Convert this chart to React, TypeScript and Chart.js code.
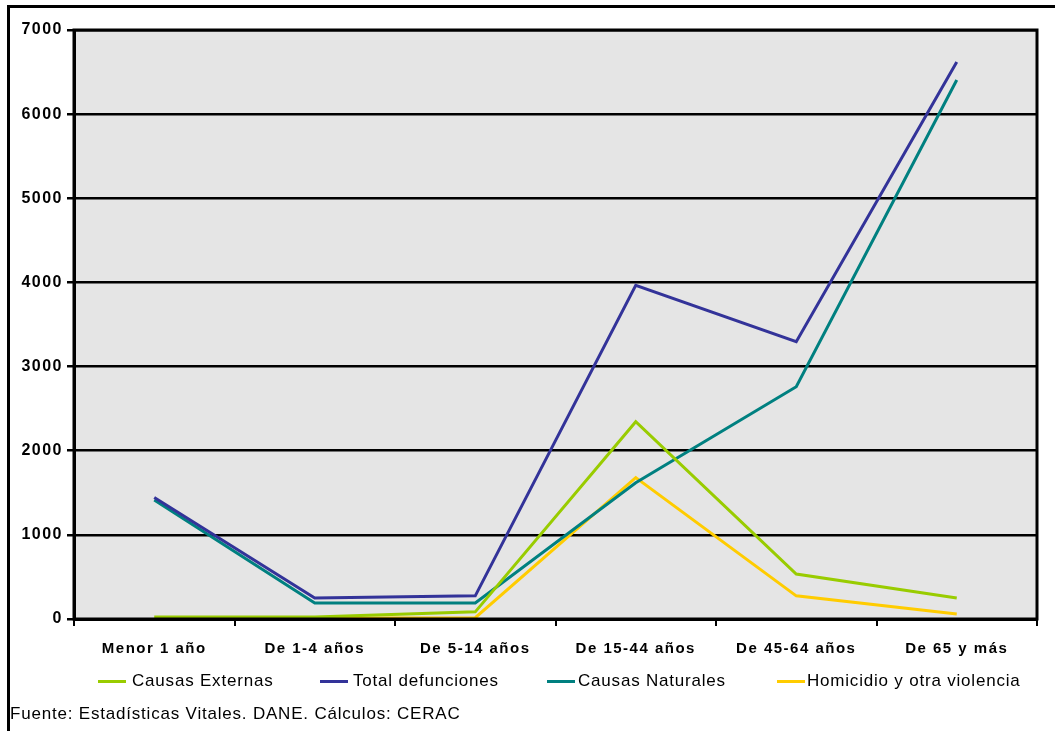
import React, { useEffect, useRef } from "react";
import { Chart, registerables } from "chart.js";

Chart.register(...registerables);

const categories = ["Menor 1 año", "De 1-4 años", "De 5-14 años", "De 15-44 años", "De 45-64 años", "De 65 y más"];
const causasExternas = [25, 25, 85, 2345, 535, 250];
const totalDefunciones = [1445, 250, 275, 3965, 3295, 6620];
const causasNaturales = [1415, 190, 190, 1620, 2760, 6405];
const homicidio = [null, 10, 15, 1680, 275, 60];
const yMin = 0;
const yMax = 7000;
const yStep = 1000;

const seriesNames = ["Causas Externas", "Total defunciones", "Causas Naturales", "Homicidio y otra violencia"];
const seriesColors = ["#99cc00", "#333399", "#008080", "#ffcc00"];
const sourceText = "Fuente: Estadísticas Vitales. DANE. Cálculos: CERAC";

const FONT = "'Liberation Sans', Arial, sans-serif";

const areaPlugin = {
  id: "areaPlugin",
  beforeDraw(chart: any) {
    const { ctx, chartArea } = chart;
    ctx.letterSpacing = "1.5px";
    ctx.save();
    ctx.fillStyle = "#e5e5e5";
    ctx.fillRect(chartArea.left, chartArea.top, chartArea.right - chartArea.left, chartArea.bottom - chartArea.top);
    ctx.restore();
  },
  afterDraw(chart: any) {
    const { ctx, chartArea } = chart;
    ctx.save();
    ctx.strokeStyle = "#000";
    ctx.lineWidth = 3;
    ctx.strokeRect(chartArea.left, chartArea.top, chartArea.right - chartArea.left, chartArea.bottom - chartArea.top);
    ctx.restore();
  },
};

export default function App() {
  const ref = useRef<HTMLCanvasElement | null>(null);

  useEffect(() => {
    if (!ref.current) return;
    const data = [causasExternas, totalDefunciones, causasNaturales, homicidio];
    const chart = new Chart(ref.current, {
      type: "line",
      data: {
        labels: categories,
        datasets: data.map((d, i) => ({
          label: seriesNames[i],
          data: d as any,
          borderColor: seriesColors[i],
          backgroundColor: seriesColors[i],
          borderWidth: 3,
          pointRadius: 0,
          tension: 0,
          fill: false,
          spanGaps: false,
        })),
      },
      options: {
        responsive: false,
        animation: false,
        layout: { padding: { top: 30, right: 18, left: 0, bottom: 0 } },
        plugins: { legend: { display: false }, tooltip: { enabled: false } },
        scales: {
          x: {
            offset: true,
            grid: { offset: true, drawOnChartArea: false, color: "#000", lineWidth: 2, tickLength: 7 },
            border: { color: "#000", width: 3 },
            ticks: {
              color: "#000",
              font: { family: FONT, size: 15, weight: "bold" },
              padding: 14,
              maxRotation: 0,
              autoSkip: false,
            },
            afterFit(scale: any) {
              scale.height = 112;
            },
          },
          y: {
            min: yMin,
            max: yMax,
            grid: { color: "#000", lineWidth: 2.5, tickLength: 7 },
            border: { color: "#000", width: 3 },
            ticks: {
              stepSize: yStep,
              color: "#000",
              font: { family: FONT, size: 16, weight: "bold" },
              padding: 4,
              callback: (v: any) => String(v),
            },
            afterFit(scale: any) {
              scale.width = 74;
            },
          },
        },
      },
      plugins: [areaPlugin],
    });
    return () => chart.destroy();
  }, []);

  const legendPos = [
    { line: 98, text: 132 },
    { line: 320, text: 353 },
    { line: 547, text: 578 },
    { line: 777, text: 807 },
  ];

  return (
    <div style={{ position: "fixed", left: 0, top: 0, width: 1055, height: 731, overflow: "hidden", background: "#fff" }}>
      <div
        style={{
          position: "absolute",
          left: 7,
          top: 5,
          width: 1200,
          height: 900,
          borderLeft: "3px solid #000",
          borderTop: "3px solid #000",
        }}
      />
      <canvas ref={ref} width={1055} height={731} style={{ position: "absolute", left: 0, top: 0, width: 1055, height: 731 }} />
      {seriesNames.map((name, i) => (
        <React.Fragment key={name}>
          <div
            style={{
              position: "absolute",
              left: legendPos[i].line,
              top: 680,
              width: 28,
              height: 3,
              background: seriesColors[i],
            }}
          />
          <div
            style={{
              position: "absolute",
              left: legendPos[i].text,
              top: 670,
              fontFamily: FONT,
              fontSize: 17,
              letterSpacing: "0.8px",
              lineHeight: "22px",
              whiteSpace: "nowrap",
              color: "#000",
            }}
          >
            {name}
          </div>
        </React.Fragment>
      ))}
      <div
        style={{
          position: "absolute",
          left: 10,
          top: 703,
          fontFamily: FONT,
          fontSize: 17,
          letterSpacing: "0.8px",
          lineHeight: "22px",
          whiteSpace: "nowrap",
          color: "#000",
        }}
      >
        {sourceText}
      </div>
    </div>
  );
}
